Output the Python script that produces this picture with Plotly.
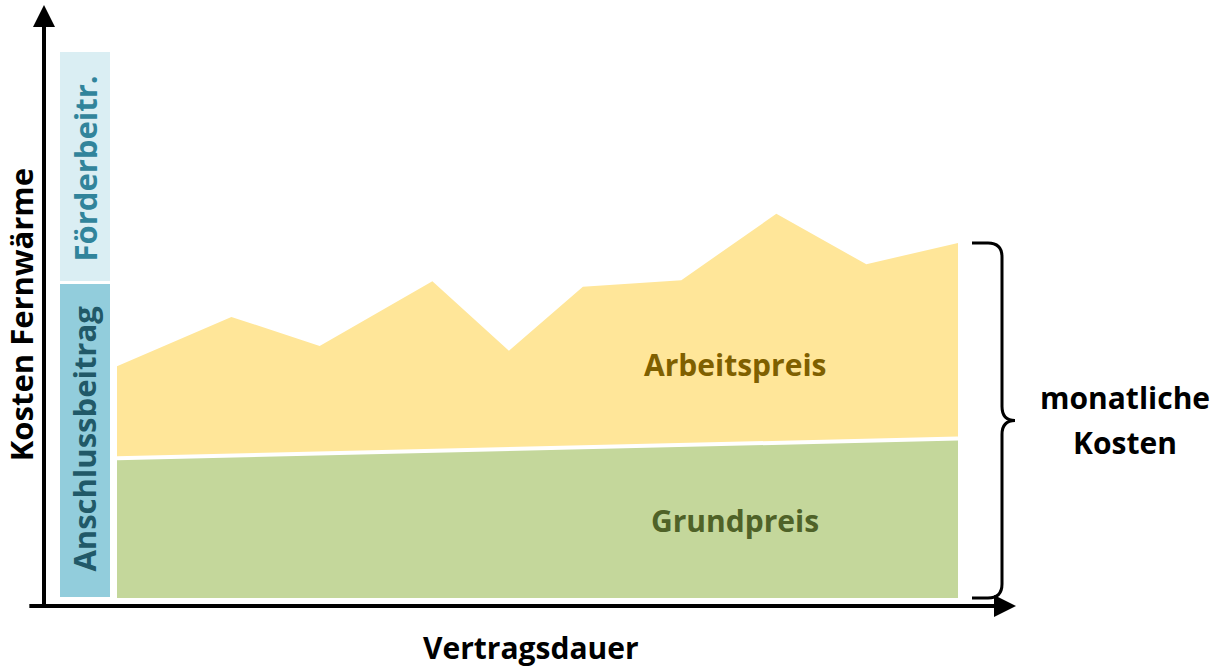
import plotly.graph_objects as go

# Vertragsdauer (Zeitpunkte) und monatliche Gesamtkosten (Grundpreis + Arbeitspreis)
zeit = [0, 1.36, 2.41, 3.75, 4.66, 5.54, 6.71, 7.84, 8.91, 10]
monatliche_kosten = [42.3, 51.3, 46.0, 57.8, 45.1, 56.8, 58.0, 70.1, 60.9, 64.8]

# Grundpreis steigt leicht linear
grundpreis_zeit = [0, 10]
grundpreis = [25.5, 29.1]

# einmalige Kosten zu Vertragsbeginn
einmal_x = [-0.386]
anschlussbeitrag = [57.6]
foerderbeitrag = [42.4]

FONT = "Open Sans"
GELB = "#FFE699"
GRUEN = "#C4D79B"

fig = go.Figure()

fig.add_trace(go.Bar(x=einmal_x, y=anschlussbeitrag, width=[0.63], name="Anschlussbeitrag",
                     marker=dict(color="#92CDDC", line=dict(color="white", width=3))))
fig.add_trace(go.Bar(x=einmal_x, y=foerderbeitrag, width=[0.63], name="Förderbeitr.",
                     marker=dict(color="#DAEEF3", line=dict(color="white", width=3))))

fig.add_trace(go.Scatter(x=grundpreis_zeit, y=grundpreis, mode="lines", fill="tozeroy",
                         fillcolor=GRUEN, line=dict(color="rgba(0,0,0,0)", width=0),
                         name="Grundpreis"))
fig.add_trace(go.Scatter(x=zeit, y=monatliche_kosten, mode="lines", fill="tonexty",
                         fillcolor=GELB, line=dict(color="rgba(0,0,0,0)", width=0),
                         name="Arbeitspreis"))
# weisse Trennlinie zwischen Grund- und Arbeitspreis
fig.add_trace(go.Scatter(x=grundpreis_zeit, y=grundpreis, mode="lines",
                         line=dict(color="white", width=4), name=""))

# Achsen als Pfeile
x_achse = -0.868
y_achse = -1.46
fig.add_annotation(x=x_achse, y=108.2, ax=x_achse, ay=-1.9, axref="x", ayref="y",
                   text="", showarrow=True, arrowhead=2, arrowwidth=4, arrowsize=1.1,
                   arrowcolor="black", standoff=0)
fig.add_annotation(x=10.69, y=y_achse, ax=-1.06, ay=y_achse, axref="x", ayref="y",
                   text="", showarrow=True, arrowhead=2, arrowwidth=4, arrowsize=1.1,
                   arrowcolor="black", standoff=0)

# geschweifte Klammer für die monatlichen Kosten
oben = monatliche_kosten[-1]
unten = 0
mitte = (oben + unten) / 2
x_start = zeit[-1] + 14 / 84.1
x_v = zeit[-1] + 44 / 84.1
x_tip = zeit[-1] + 57 / 84.1
rx = 14 / 84.1
ry = 14 / 5.48
pfad = (f"M {x_start},{oben} L {x_v - rx},{oben} Q {x_v},{oben} {x_v},{oben - ry} "
        f"L {x_v},{mitte + ry} Q {x_v},{mitte} {x_tip},{mitte} "
        f"Q {x_v},{mitte} {x_v},{mitte - ry} L {x_v},{unten + ry} "
        f"Q {x_v},{unten} {x_v - rx},{unten} L {x_start},{unten}")
fig.add_shape(type="path", path=pfad, xref="x", yref="y", line=dict(color="black", width=3))


def label(x, y, text, color, size=30, angle=0):
    fig.add_annotation(x=x, y=y, text=text, showarrow=False, textangle=angle, borderpad=0,
                       font=dict(family=FONT, size=size, color=color, weight="bold"))


label(7.35, 42.7, "Arbeitspreis", "#7F6000")
label(7.35, 14.2, "Grundpreis", "#4F6228")
label(11.99, 36.5, "monatliche", "black")
label(11.99, 28.3, "Kosten", "black")
label(4.92, -9.12, "Vertragsdauer", "black")
label(-1.1415, 51.6, "Kosten Fernwärme", "black", size=31, angle=-90)
label(einmal_x[0], 78.3, "Förderbeitr.", "#31849B", size=31, angle=-90)
label(einmal_x[0], 29.0, "Anschlussbeitrag", "#215968", size=31, angle=-90)

fig.update_layout(
    width=1213, height=669,
    margin=dict(l=0, r=0, t=0, b=0),
    paper_bgcolor="white", plot_bgcolor="white",
    barmode="stack", showlegend=False, hovermode=False,
    xaxis=dict(range=[-1.3912, 13.0321], visible=False, fixedrange=True),
    yaxis=dict(range=[-12.956, 109.124], visible=False, fixedrange=True),
)

# Seitenrand entfernen, damit die Grafik bei (0, 0) beginnt
fig.write_html("out.html", config={"displayModeBar": False},
               post_script="document.body.style.margin='0';")
